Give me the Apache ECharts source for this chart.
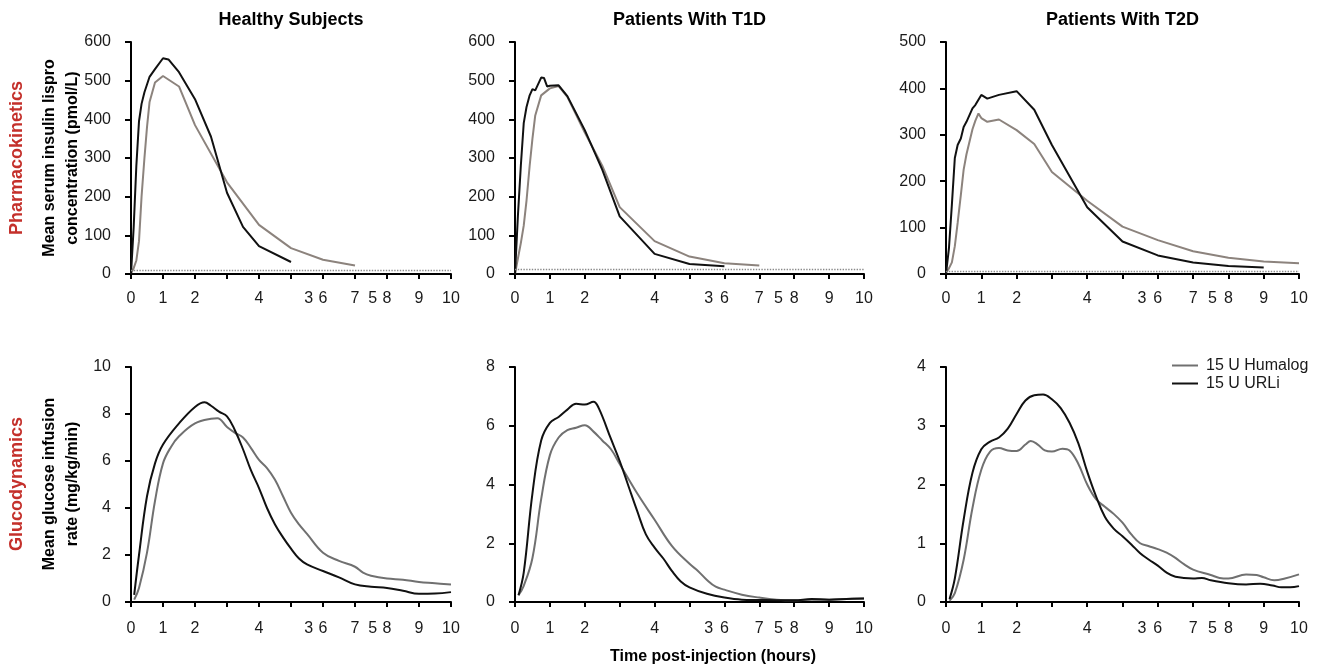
<!DOCTYPE html>
<html>
<head>
<meta charset="utf-8">
<script src="https://cdn.jsdelivr.net/npm/echarts@6/dist/echarts.min.js"></script>
<style>
  html, body { margin: 0; padding: 0; background: #fff; }
  #chart { width: 1320px; height: 668px; }
</style>
</head>
<body>
<div id="chart"></div>
<script>
// panel titles and row labels
let columnTitles = ['Healthy Subjects', 'Patients With T1D', 'Patients With T2D'];
let legendNames = ['15 U Humalog', '15 U URLi'];

// x axis labels (as printed on the original, with the stray "3" and "5")
let xTickValues = [0, 1, 2, 3, 4, 5, 6, 7, 8, 9, 10];
let xLabelValues = [0, 1, 2, 4, 5.55, 6, 7, 7.55, 8, 9, 10];
let xLabelText = { 5.55: '3', 7.55: '5' };

// y axis ranges: [max, interval]
let pkYRange = [[600, 100], [600, 100], [500, 100]];
let gdYRange = [[10, 2], [8, 2], [4, 1]];
let lloq = [9, 12, 7];

// pharmacokinetics, pmol/L  [hours, value]
let pkHealthyHumalog = [[0,2],[0.083,15],[0.167,35],[0.25,85],[0.33,200],[0.42,300],[0.5,380],[0.58,445],[0.75,495],[1,512],[1.5,485],[2,385],[3,237],[4,127],[5,67],[6,37],[7,22]];
let pkHealthyUrli = [[0,0],[0.083,120],[0.167,280],[0.25,395],[0.33,440],[0.42,470],[0.5,490],[0.58,510],[0.75,530],[1,558],[1.17,555],[1.5,522],[2,452],[2.5,355],[3,210],[3.5,122],[4,72],[5,31]];
let pkT1dHumalog = [[0,0],[0.083,40],[0.167,80],[0.25,125],[0.33,190],[0.42,280],[0.5,350],[0.58,410],[0.75,462],[1,480],[1.25,486],[1.5,458],[2,366],[2.5,280],[3,173],[4,85],[5,45],[6,28],[7,22]];
let pkT1dUrli = [[0,0],[0.083,150],[0.167,280],[0.25,390],[0.33,432],[0.42,462],[0.5,478],[0.58,475],[0.75,508],[0.83,507],[0.92,485],[1,487],[1.25,488],[1.5,460],[2,372],[2.5,270],[3,149],[4,52],[5,26],[6,20]];
let pkT2dHumalog = [[0,3],[0.083,12],[0.167,25],[0.25,60],[0.33,110],[0.42,170],[0.5,225],[0.58,258],[0.75,312],[0.83,330],[0.92,346],[1,336],[1.17,328],[1.5,333],[2,310],[2.5,280],[3,220],[4,158],[5,102],[6,73],[7,49],[8,35],[9,27],[10,23]];
let pkT2dUrli = [[0,0],[0.083,55],[0.167,150],[0.25,250],[0.33,278],[0.42,292],[0.5,317],[0.58,328],[0.75,357],[0.83,364],[1,386],[1.17,378],[1.5,386],[2,394],[2.5,354],[3,278],[4,144],[5,70],[6,40],[7,25],[8,17],[9,14]];

// glucodynamics, mg/kg/min  [hours, value]
let gdHealthyHumalog = [[0.1,0.1],[0.25,0.6],[0.5,2.1],[0.75,4.3],[1,5.9],[1.25,6.6],[1.5,7.05],[2,7.6],[2.5,7.8],[2.7,7.82],[3,7.45],[3.25,7.2],[3.5,7.0],[3.75,6.55],[4,6.05],[4.25,5.7],[4.5,5.2],[4.75,4.5],[5,3.8],[5.25,3.3],[5.5,2.9],[6,2.1],[6.5,1.75],[7,1.5],[7.25,1.25],[7.5,1.12],[8,1.0],[8.5,0.95],[9,0.85],[9.5,0.8],[10,0.74]];
let gdHealthyUrli = [[0.1,0.3],[0.25,2.0],[0.5,4.5],[0.75,5.9],[1,6.7],[1.5,7.6],[2,8.3],[2.3,8.5],[2.5,8.35],[2.75,8.1],[3,7.9],[3.25,7.3],[3.5,6.5],[3.75,5.6],[4,4.85],[4.25,4.0],[4.5,3.3],[4.75,2.75],[5,2.27],[5.25,1.85],[5.5,1.6],[6,1.32],[6.5,1.05],[7,0.75],[7.5,0.65],[8,0.6],[8.5,0.48],[9,0.35],[9.5,0.36],[10,0.42]];
let gdT1dHumalog = [[0.1,0.23],[0.25,0.55],[0.5,1.5],[0.75,3.5],[1,5.0],[1.25,5.6],[1.5,5.85],[1.75,5.93],[2,6.02],[2.25,5.8],[2.5,5.5],[2.75,5.2],[3,4.7],[3.5,3.7],[4,2.8],[4.5,1.9],[5,1.3],[5.25,1.05],[5.5,0.75],[5.75,0.52],[6,0.42],[6.5,0.25],[7,0.15],[7.5,0.08],[8,0.06],[8.5,0.08],[9,0.08],[9.5,0.1],[10,0.12]];
let gdT1dUrli = [[0.1,0.23],[0.25,1.0],[0.5,3.7],[0.75,5.5],[1,6.1],[1.25,6.3],[1.5,6.55],[1.75,6.75],[2,6.72],[2.25,6.82],[2.4,6.6],[2.75,5.55],[3,4.8],[3.25,3.95],[3.5,3.1],[3.75,2.3],[4,1.85],[4.25,1.48],[4.5,1.05],[4.75,0.7],[5,0.5],[5.5,0.28],[6,0.15],[6.5,0.08],[7,0.07],[7.5,0.06],[8,0.06],[8.5,0.1],[9,0.08],[9.5,0.1],[10,0.12]];
let gdT2dHumalog = [[0.1,0.02],[0.25,0.15],[0.5,0.72],[0.75,1.6],[1,2.25],[1.25,2.56],[1.5,2.62],[1.75,2.58],[2,2.57],[2.25,2.68],[2.4,2.74],[2.6,2.68],[2.8,2.58],[3,2.56],[3.3,2.61],[3.5,2.58],[3.75,2.35],[4,2.0],[4.25,1.75],[4.5,1.62],[4.75,1.5],[5,1.35],[5.25,1.15],[5.5,1.0],[5.75,0.95],[6,0.9],[6.25,0.84],[6.5,0.75],[6.75,0.64],[7,0.55],[7.5,0.46],[7.75,0.41],[8,0.4],[8.5,0.47],[8.8,0.46],[9,0.42],[9.3,0.37],[9.6,0.4],[10,0.47]];
let gdT2dUrli = [[0.1,0.05],[0.25,0.4],[0.5,1.4],[0.75,2.2],[1,2.6],[1.25,2.73],[1.5,2.8],[1.75,2.95],[2,3.2],[2.25,3.43],[2.5,3.52],[2.75,3.53],[3,3.45],[3.25,3.3],[3.5,3.05],[3.75,2.7],[4,2.22],[4.25,1.8],[4.5,1.45],[4.75,1.25],[5,1.12],[5.25,0.98],[5.5,0.83],[5.75,0.72],[6,0.62],[6.25,0.5],[6.5,0.43],[7,0.4],[7.25,0.41],[7.5,0.37],[8,0.32],[8.5,0.3],[8.9,0.31],[9.25,0.28],[9.5,0.25],[9.75,0.25],[10,0.27]];

let pkHumalog = [pkHealthyHumalog, pkT1dHumalog, pkT2dHumalog];
let pkUrli = [pkHealthyUrli, pkT1dUrli, pkT2dUrli];
let gdHumalog = [gdHealthyHumalog, gdT1dHumalog, gdT2dHumalog];
let gdUrli = [gdHealthyUrli, gdT1dUrli, gdT2dUrli];

// layout
const FONT = '"Liberation Sans", Arial, Helvetica, sans-serif';
const gridLefts = [131, 515, 946];
const gridWidths = [320, 349, 353];
const rowTops = [42, 367];
const rowHeights = [232, 235];
const xOffsets = [5, 6];
const xLabelMargins = [12, 13];
const textColor = '#1a1a1a';
const pkGray = '#8c837d';
const gdGray = '#707070';
const black = '#111';

var chart = echarts.init(document.getElementById('chart'));

let grids = [], xAxes = [], yAxes = [], series = [];
for (let row = 0; row < 2; row++) {
    for (let col = 0; col < 3; col++) {
        let idx = row * 3 + col;
        grids.push({
            left: gridLefts[col], top: rowTops[row],
            width: gridWidths[col], height: rowHeights[row]
        });
        xAxes.push({
            gridIndex: idx, type: 'value', min: 0, max: 10, interval: 1,
            offset: xOffsets[row],
            axisLine: { show: true, lineStyle: { color: '#000', width: 2 } },
            axisTick: { show: true, length: 5, customValues: xTickValues, lineStyle: { color: '#000', width: 2 } },
            axisLabel: {
                customValues: xLabelValues, margin: xLabelMargins[row], fontSize: 16, color: textColor, fontFamily: FONT,
                formatter: function (v) { return xLabelText[v] !== undefined ? xLabelText[v] : String(v); }
            },
            splitLine: { show: false }
        });
        let range = row === 0 ? pkYRange[col] : gdYRange[col];
        yAxes.push({
            gridIndex: idx, type: 'value', min: 0, max: range[0], interval: range[1],
            offset: 8,
            axisLine: { show: true, lineStyle: { color: '#000', width: 2 } },
            axisTick: { show: true, length: 6, lineStyle: { color: '#000', width: 2 } },
            axisLabel: { margin: 12, fontSize: 16, color: textColor, fontFamily: FONT },
            splitLine: { show: false }
        });

        let gray = row === 0 ? pkGray : gdGray;
        let hData = row === 0 ? pkHumalog[col] : gdHumalog[col];
        let uData = row === 0 ? pkUrli[col] : gdUrli[col];
        let isLegendPanel = (row === 1 && col === 2);
        let hSeries = {
            name: isLegendPanel ? legendNames[0] : 'Humalog ' + idx,
            type: 'line', xAxisIndex: idx, yAxisIndex: idx,
            data: hData, showSymbol: false, symbol: 'none',
            smooth: row === 1 ? 0.4 : false,
            color: gray,
            lineStyle: { color: gray, width: 2 },
            z: 2
        };
        if (row === 0) {
            hSeries.markLine = {
                silent: true, symbol: 'none', label: { show: false },
                lineStyle: { color: '#8a8a8a', type: 'dotted', width: 1.4 },
                data: [{ yAxis: lloq[col] }]
            };
        }
        series.push(hSeries);
        series.push({
            name: isLegendPanel ? legendNames[1] : 'URLi ' + idx,
            type: 'line', xAxisIndex: idx, yAxisIndex: idx,
            data: uData, showSymbol: false, symbol: 'none',
            smooth: row === 1 ? 0.4 : false,
            color: black,
            lineStyle: { color: black, width: 2 },
            z: 3
        });
    }
}

function label(text, x, y, size, weight, color, rotate) {
    return {
        type: 'text', x: x, y: y, rotation: rotate ? Math.PI / 2 : 0,
        style: {
            text: text, fill: color, font: weight + ' ' + size + 'px ' + FONT,
            align: 'center', verticalAlign: 'middle',
            textAlign: 'center', textVerticalAlign: 'middle', lineHeight: 23
        }
    };
}

let graphics = [];
for (let col = 0; col < 3; col++) {
    graphics.push(label(columnTitles[col], gridLefts[col] + gridWidths[col] / 2, 20, 18, 'bold', '#000', false));
}
graphics.push(label('Pharmacokinetics', 17, 158, 18, 'bold', '#c4302b', true));
graphics.push(label('Glucodynamics', 17, 484, 18, 'bold', '#c4302b', true));
graphics.push(label('Mean serum insulin lispro\nconcentration (pmol/L)', 61, 158, 16, 'bold', '#000', true));
graphics.push(label('Mean glucose infusion\nrate (mg/kg/min)', 61, 484, 16, 'bold', '#000', true));
graphics.push(label('Time post-injection (hours)', 713, 657, 16, 'bold', '#000', false));

var option = {
    animation: false,
    backgroundColor: '#fff',
    textStyle: { fontFamily: FONT },
    grid: grids,
    xAxis: xAxes,
    yAxis: yAxes,
    legend: {
        data: legendNames, orient: 'vertical', left: 1172, top: 357,
        icon: 'rect', itemWidth: 26, itemHeight: 2, itemGap: 1, padding: 0,
        textStyle: { fontSize: 16, color: textColor, fontFamily: FONT, lineHeight: 17, padding: [0, 0, 0, 3] }
    },
    graphic: graphics,
    series: series
};
chart.setOption(option);
</script>
</body>
</html>
